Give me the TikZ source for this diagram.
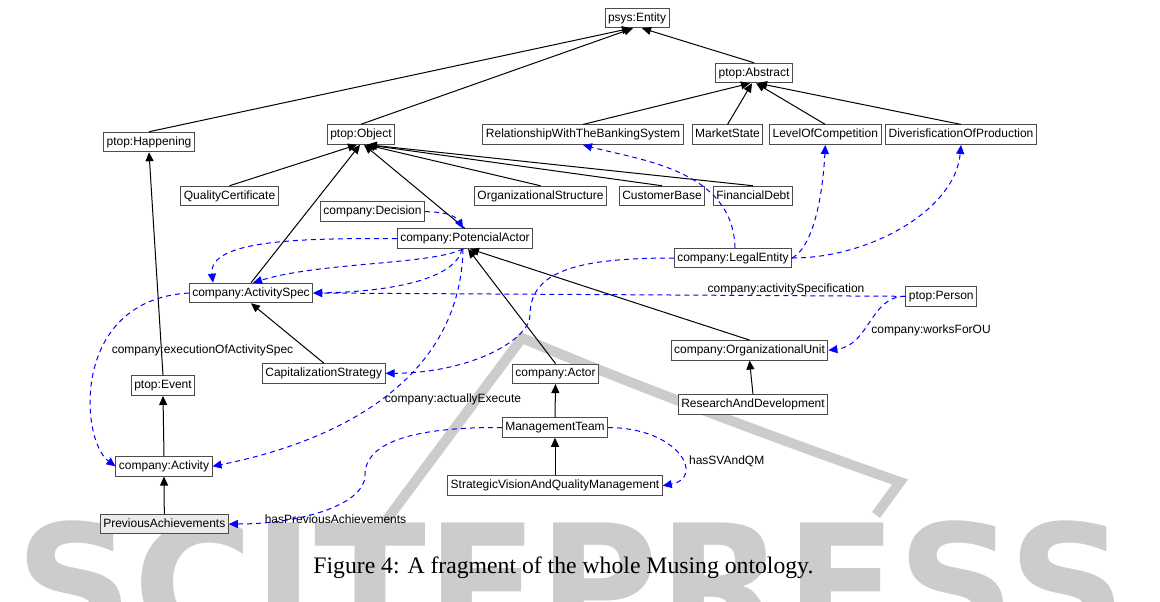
\documentclass[tikz,border=0pt]{standalone}
\usepackage{fontspec}
\setmainfont{Liberation Sans}
\newfontfamily\captionfont{Liberation Serif}
\newfontfamily\markfont{DejaVu Sans}
\usetikzlibrary{arrows.meta}

\begin{document}
\begin{tikzpicture}[x=0.5pt,y=-0.5pt]
        \tikzstyle{every node}+=[inner sep=0pt]
        \tikzstyle{cls}=[draw=black!70, line width=0.5pt, fill=white, font=\fontsize{6}{7}\selectfont, inner xsep=1.5pt, minimum height=9.75pt, text height=4.4pt, text depth=1.3pt]
        \tikzstyle{lbl}=[font=\fontsize{6}{7}\selectfont]
        \tikzstyle{isa}=[draw=black, line width=0.5pt, -{Triangle[length=4.5pt,width=4pt]}]
        \tikzstyle{rel}=[draw=blue, line width=0.5pt, dash pattern=on 2.5pt off 2pt, -{Triangle[length=4.5pt,width=4pt]}]
        \useasboundingbox (0,0) rectangle (1160,601);
        \begin{scope}
        \clip (0,0) rectangle (1160,601);
        \node [anchor=base west, text=black!20, font=\markfont\bfseries\fontsize{82}{82}\selectfont] (watermark) at (15,642) {SCITEPRESS};
        \draw [black!20, line width=5pt] (385,522) -- (522,338) .. controls (620,380) and (780,440) .. (900,482) -- (876,515);
        \end{scope}
        \node [cls] (entity) at (637,18) {psys:Entity};
        \node [cls] (abstract) at (754,73) {ptop:Abstract};
        \node [cls] (happening) at (149,142) {ptop:Happening};
        \node [cls] (object) at (361,134.5) {ptop:Object};
        \node [cls] (banking) at (583,134.7) {RelationshipWithTheBankingSystem};
        \node [cls] (marketstate) at (727.5,134.7) {MarketState};
        \node [cls] (competition) at (825.3,134.7) {LevelOfCompetition};
        \node [cls] (diversification) at (961,134.7) {DiverisficationOfProduction};
        \node [cls] (quality) at (229.5,196) {QualityCertificate};
        \node [cls] (orgstructure) at (540.5,196) {OrganizationalStructure};
        \node [cls] (customerbase) at (662,196) {CustomerBase};
        \node [cls] (debt) at (753,196) {FinancialDebt};
        \node [cls] (decision) at (372.5,211.7) {company:Decision};
        \node [cls] (potactor) at (465,238.7) {company:PotencialActor};
        \node [cls] (legalentity) at (733,258) {company:LegalEntity};
        \node [cls] (actspec) at (251,293) {company:ActivitySpec};
        \node [cls] (person) at (941.3,296.3) {ptop:Person};
        \node [cls] (orgunit) at (749.5,350.3) {company:OrganizationalUnit};
        \node [cls] (capstrategy) at (323.7,373.3) {CapitalizationStrategy};
        \node [cls] (actor) at (555.5,373.8) {company:Actor};
        \node [cls] (event) at (163,385.7) {ptop:Event};
        \node [cls] (research) at (753,404.5) {ResearchAndDevelopment};
        \node [cls] (mgmtteam) at (555,427.5) {ManagementTeam};
        \node [cls] (activity) at (164,466.3) {company:Activity};
        \node [cls] (svqm) at (555,485.7) {StrategicVisionAndQualityManagement};
        \node [cls, fill=black!8] (prevach) at (164.3,524) {PreviousAchievements};
        \node [lbl] (lblspec) at (786,289) {company:activitySpecification};
        \node [lbl] (lblworks) at (931,330) {company:worksForOU};
        \node [lbl] (lblexec) at (202.5,350) {company:executionOfActivitySpec};
        \node [lbl] (lblexecute) at (453,399) {company:actuallyExecute};
        \node [lbl] (lblsvqm) at (726.7,461.7) {hasSVAndQM};
        \node [lbl] (lblprev) at (335.5,519) {hasPreviousAchievements};
        \node [anchor=base west, font=\captionfont\fontsize{11.85}{14}\selectfont] (caption) at (313,573) {Figure 4: A fragment of the whole Musing ontology.};
        \draw [isa] (happening.north) -- ([xshift=-3pt]entity.south);
        \draw [isa] (object.north) -- ([xshift=-2pt]entity.south);
        \draw [isa] (abstract.north) -- ([xshift=2.5pt]entity.south);
        \draw [isa] (banking.north) -- ([xshift=-2pt]abstract.south);
        \draw [isa] (marketstate.north) -- ([xshift=-1pt]abstract.south);
        \draw [isa] (competition.north) -- ([xshift=1pt]abstract.south);
        \draw [isa] (diversification.north) -- ([xshift=2pt]abstract.south);
        \draw [isa] (event.north) -- (happening.south);
        \draw [isa] (activity.north) -- (event.south);
        \draw [isa] (prevach.north) -- (activity.south);
        \draw [isa] (quality.north) -- ([xshift=-2pt]object.south);
        \draw [isa] (actspec.north) -- ([xshift=-0.5pt]object.south);
        \draw [isa] (potactor.north) -- ([xshift=1.5pt]object.south);
        \draw [isa] (orgstructure.north) -- ([xshift=2.5pt]object.south);
        \draw [isa] (customerbase.north) -- ([xshift=3pt]object.south);
        \draw [isa] (debt.north) -- ([xshift=3.5pt]object.south);
        \draw [isa] (capstrategy.north) -- (actspec.south);
        \draw [isa] (actor.north) -- ([xshift=1.5pt]potactor.south);
        \draw [isa] (orgunit.north) -- ([xshift=2.5pt]potactor.south);
        \draw [isa] (research.north) -- (orgunit.south);
        \draw [isa] (mgmtteam.north) -- (actor.south);
        \draw [isa] (svqm.north) -- (mgmtteam.south);
        \draw [rel] (decision.east) to [out=0, in=120] ([xshift=-1pt]potactor.north);
        \draw [rel] (potactor.west) .. controls (300,238) and (208,240) .. ([xshift=-19pt]actspec.north);
        \draw [rel] ([xshift=-1pt]potactor.south) .. controls (430,265) and (320,262) .. ([xshift=1pt]actspec.north);
        \draw [rel] ([xshift=-1.5pt]potactor.south) .. controls (455,282) and (380,292) .. (actspec.east);
        \draw [rel] ([xshift=-1pt]potactor.south) .. controls (460,390) and (320,445) .. (activity.east);
        \draw [rel] (person.west) -- (actspec.east);
        \draw [rel] (person.west) .. controls (870,296) and (870,345) .. (orgunit.east);
        \draw [rel] (legalentity.west) .. controls (580,258) and (530,270) .. (530,315) .. controls (530,340) and (470,373) .. (capstrategy.east);
        \draw [rel] (legalentity.east) .. controls (870,258) and (955,210) .. (diversification.south);
        \draw [rel] (legalentity.east) .. controls (815,245) and (823,190) .. (competition.south);
        \draw [rel] ([xshift=1pt]legalentity.north) .. controls (733,170) and (640,160) .. (banking.south);
        \draw [rel] (actspec.west) .. controls (70,300) and (80,440) .. (activity.west);
        \draw [rel] (mgmtteam.west) .. controls (420,427) and (365,440) .. (365,475) .. controls (365,505) and (300,524) .. (prevach.east);
        \draw [rel] (mgmtteam.east) .. controls (680,428) and (705,478) .. (svqm.east);
\end{tikzpicture}
\end{document}
